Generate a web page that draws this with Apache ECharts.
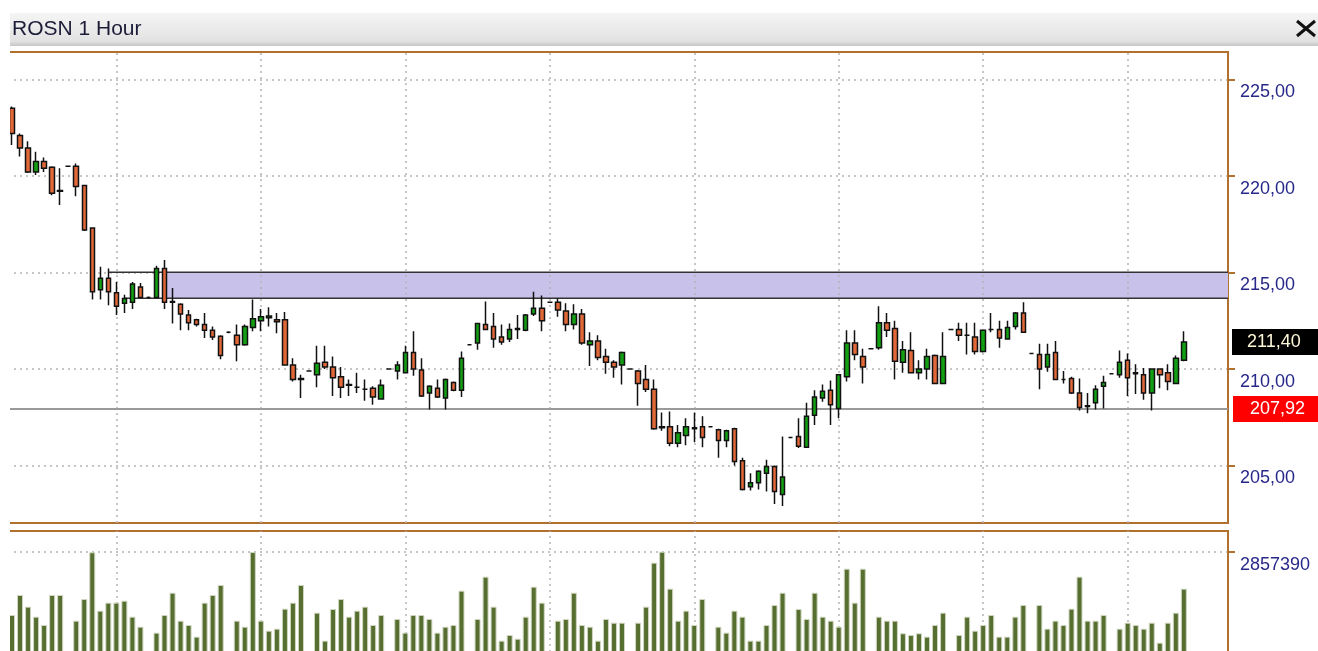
<!DOCTYPE html>
<html>
<head>
<meta charset="utf-8">
<title>ROSN 1 Hour</title>
<script src="https://cdn.jsdelivr.net/npm/echarts@6/dist/echarts.min.js"></script>
<style>
  html, body { margin: 0; padding: 0; background: #fff; }
  #report { width: 1318px; height: 651px; }
</style>
</head>
<body>
<div id="report"></div>
<script>
  // hourly bars, oldest first
  const opens = [223.5,222.1,221.45,220.2,220.75,220.45,219.25,220.5,220.5,219.5,
    217.3,214.1,214.7,213.95,213.4,213.45,214.25,213.7,213.7,215.2,
    213.5,213.35,212.8,212.55,212.3,212.0,211.7,211.9,211.75,211.25,
    212.15,212.5,212.65,212.55,212.55,210.2,209.5,209.9,209.7,210.35,
    210.1,209.6,209.2,209.05,208.95,209.0,208.45,210.0,209.9,209.8,
    210.85,209.95,208.75,209.0,208.5,209.3,208.9,211.25,211.35,212.3,
    212.2,211.65,211.55,212.05,212.0,212.85,213.15,213.45,213.45,213.0,
    212.3,212.85,211.25,211.45,210.65,210.35,210.2,210.0,209.9,209.45,
    208.95,207.0,207.0,206.15,206.55,206.95,207.0,207.0,206.85,206.3,
    206.9,205.25,203.9,204.1,204.6,204.95,203.5,206.45,206.5,205.95,
    207.6,208.5,208.9,207.95,209.6,211.35,210.65,211.05,211.1,212.4,
    212.1,210.35,210.95,209.8,210.0,210.7,209.25,212.05,212.05,211.75,
    211.65,210.9,212.05,212.05,211.55,212.2,212.9,210.8,210.75,210.1,
    210.85,209.45,209.5,208.75,208.05,208.25,209.1,209.75,209.7,210.45,
    209.8,209.7,208.75,210.0,209.8,209.25,210.45]
  const closes = [222.2,221.45,220.2,220.75,220.4,219.1,219.2,220.5,219.45,217.2,
    214.0,214.7,214.0,213.25,213.65,214.4,213.7,213.7,215.2,213.45,
    213.45,212.85,212.4,212.3,212.0,211.65,210.7,211.9,211.25,212.2,
    212.6,212.7,212.75,212.45,210.2,209.45,209.45,209.9,210.3,210.1,
    209.55,209.05,209.15,209.05,208.95,208.55,209.15,210.0,210.2,210.85,
    210.0,208.6,209.1,208.55,209.45,208.9,210.55,211.25,212.35,212.05,
    211.55,211.4,212.05,212.1,212.8,213.15,212.5,213.45,213.05,212.3,
    212.85,211.35,211.45,210.6,210.35,210.1,210.85,210.0,209.25,208.95,
    206.9,206.95,206.15,206.7,207.0,206.9,206.45,207.0,206.3,206.8,
    205.2,203.75,204.1,204.7,204.95,203.65,204.4,206.45,206.0,207.55,
    208.55,208.85,208.15,209.7,211.35,210.75,210.1,211.05,212.4,212.0,
    210.4,211.0,209.8,210.0,210.65,209.25,210.65,212.05,211.75,211.75,
    210.9,212.0,212.05,211.6,212.15,212.9,211.9,210.8,210.0,210.75,
    209.45,209.45,208.75,208.0,208.1,208.95,209.3,209.75,210.35,209.55,
    209.75,208.75,210.0,209.7,209.35,210.55,211.4]
  const lows = [221.6,221.0,220.15,220.05,220.2,219.0,218.5,220.5,218.95,217.15,
    213.6,213.6,213.3,212.8,212.9,213.1,213.7,213.65,213.7,213.1,
    212.35,212.0,212.0,212.2,211.6,211.5,210.5,211.85,210.4,211.2,
    211.95,211.95,212.2,211.85,210.2,209.35,208.5,209.9,209.05,210.0,
    208.6,208.5,208.6,208.75,208.35,208.15,208.4,210.0,209.45,209.8,
    209.65,208.55,207.9,208.5,207.9,208.85,208.55,211.25,211.0,212.0,
    211.1,211.25,211.4,211.55,211.95,212.75,211.95,213.45,212.7,211.95,
    212.05,211.25,210.15,210.45,209.75,209.55,209.2,210.0,208.1,208.8,
    206.85,206.8,206.0,205.95,206.05,206.2,205.95,207.0,205.4,205.95,
    205.0,203.7,203.7,203.75,203.65,203.0,202.9,206.45,205.9,205.9,
    207.1,208.3,207.1,207.45,209.35,210.45,209.25,211.05,211.0,211.65,
    209.45,209.8,209.8,209.45,209.45,209.25,209.25,212.05,211.45,210.75,
    210.75,210.85,211.9,211.1,211.55,212.05,211.9,210.8,208.95,209.85,
    209.45,209.25,208.7,207.85,207.7,207.9,207.95,209.75,209.55,208.6,
    208.7,208.4,207.85,209.0,208.9,209.25,210.4]
  const highs = [223.6,222.2,221.8,221.25,220.95,220.5,220.4,220.5,220.65,219.5,
    217.3,215.3,215.2,214.5,213.85,214.5,214.45,213.75,215.35,215.65,
    214.2,213.4,213.05,212.6,212.9,212.2,211.75,211.95,212.3,212.3,
    213.6,213.1,213.2,212.9,212.95,210.55,209.7,209.9,211.2,211.2,
    210.65,210.1,209.45,209.8,209.45,209.1,209.45,210.0,210.4,211.2,
    211.95,210.55,209.15,209.45,209.5,209.35,210.9,211.25,212.35,213.5,
    212.9,212.3,212.35,212.8,212.85,214.0,213.8,213.45,213.65,213.4,
    213.35,213.1,211.9,211.75,211.05,210.45,210.9,210.0,209.95,210.2,
    209.45,207.75,207.8,207.1,207.45,207.75,207.55,207.0,206.9,206.85,
    206.95,205.4,204.6,204.75,205.3,205.0,206.5,206.45,207.45,208.25,
    208.9,209.2,209.4,209.7,212.0,212.0,211.05,211.05,213.25,212.9,
    212.5,211.45,211.9,210.45,211.05,210.75,211.9,212.05,212.4,212.4,
    212.4,212.05,212.9,212.5,212.5,212.95,213.45,210.8,211.3,211.3,
    211.45,209.9,209.6,209.5,208.75,209.15,209.65,209.75,210.95,210.8,
    210.25,210.05,210.0,210.0,210.25,210.7,211.95]
  const volumes = [1638000,2023000,1798000,1605000,1445000,2023000,2023000,150000,1528000,1946000,
    2846000,1721000,1875000,1875000,1913000,1605000,1412000,120000,1297000,1638000,
    2067000,1528000,1445000,1220000,1875000,2023000,2216000,140000,1528000,1412000,
    2850120,1528000,1335000,1374000,1759000,1875000,2216000,160000,1682000,1143000,
    1753000,1946000,1605000,1721000,1798000,1445000,1638000,130000,1561000,1297000,
    1638000,1638000,1561000,1297000,1412000,1445000,2106000,150000,1561000,2376000,
    1798000,1143000,1252000,1181000,1605000,2183000,1875000,140000,1528000,1561000,
    2067000,1445000,1412000,1143000,1561000,1489000,1489000,120000,1489000,1798000,
    2646000,2857390,2145000,1528000,1721000,1445000,1946000,150000,1412000,1297000,
    1721000,1605000,1143000,1143000,1445000,1830000,2067000,140000,1753000,1561000,
    2067000,1605000,1528000,1412000,2530000,1875000,2530000,130000,1605000,1528000,
    1528000,1285000,1252000,1285000,1220000,1445000,1682000,150000,1252000,1605000,
    1335000,1445000,1638000,1220000,1220000,1605000,1830000,140000,1830000,1374000,
    1528000,1445000,1759000,2376000,1528000,1528000,1638000,130000,1374000,1489000,
    1445000,1374000,1489000,1104000,1489000,1682000,2145000]

  const priceTicks = [205, 210, 215, 220, 225]
  const volumeTicks = [2857390]
  const dayStarts = [13, 31, 49, 67, 85, 103, 121, 139]
  const zoneLow = 213.66
  const zoneHigh = 215.01
  const zoneStart = [11.6, 14.3, 19.2]   // top line, bottom line, fill
  const levelPrice = 207.92
  const lastPrice = 211.40
  const emptySlots = 5

  const hours = []
  for (let i = 0; i < opens.length + emptySlots; i++) hours.push(String(i + 1))
  const candles = opens.map((o, i) => [o, closes[i], lows[i], highs[i]])

  const brown = '#b0702e'
  const labelBlue = '#28288a'
  const dotted = {color: '#b4b4b4', type: [2, 4], width: 1.5}
  const comma = v => v.toFixed(2).replace('.', ',')

  const dayLines = dayStarts.map(i => ({xAxis: i, lineStyle: dotted}))

  const chart = echarts.init(document.getElementById('report'))
  chart.setOption({
    animation: false,
    backgroundColor: '#fff',
    textStyle: {fontFamily: 'Liberation Sans'},
    grid: [
      {left: 8, top: 52, width: 1220, height: 471, outerBoundsMode: 'none', show: true, borderColor: brown, borderWidth: 2, backgroundColor: '#fff'},
      {left: 8, top: 531, width: 1220, height: 169, outerBoundsMode: 'none', show: true, borderColor: brown, borderWidth: 2, backgroundColor: '#fff'}
    ],
    xAxis: [
      {type: 'category', gridIndex: 0, data: hours, show: false},
      {type: 'category', gridIndex: 1, data: hours, show: false}
    ],
    yAxis: [
      {
        type: 'value', gridIndex: 0, position: 'right', min: 202.02, max: 226.42,
        axisLine: {show: true, lineStyle: {color: brown, width: 2}},
        axisTick: {show: true, length: 7, customValues: priceTicks, lineStyle: {color: brown, width: 2}},
        axisLabel: {
          customValues: priceTicks, formatter: comma, color: labelBlue,
          fontSize: 18, fontFamily: 'Liberation Sans', margin: 12,
          verticalAlign: 'top', padding: [4, 0, 0, 0]
        },
        splitLine: {show: true, lineStyle: dotted}
      },
      {
        type: 'value', gridIndex: 1, position: 'right', min: 0, max: 3256200,
        axisLine: {show: true, lineStyle: {color: brown, width: 2}},
        axisTick: {show: true, length: 7, customValues: volumeTicks, lineStyle: {color: brown, width: 2}},
        axisLabel: {
          customValues: volumeTicks, formatter: v => String(v), color: labelBlue,
          fontSize: 18, fontFamily: 'Liberation Sans', margin: 12,
          verticalAlign: 'top', padding: [4, 0, 0, 0]
        },
        splitLine: {show: true, lineStyle: dotted}
      }
    ],
    series: [
      {
        type: 'candlestick',
        xAxisIndex: 0,
        yAxisIndex: 0,
        data: candles,
        barWidth: 5,
        itemStyle: {
          color: '#12a012', color0: '#e2683a',
          borderColor: '#111', borderColor0: '#111', borderColorDoji: '#111',
          borderWidth: 1.5
        },
        markArea: {
          silent: true,
          z: 0.5,
          data: [
            [{xAxis: zoneStart[2], yAxis: zoneHigh, itemStyle: {color: '#c8c1e9'}}, {yAxis: zoneLow}],
            [{xAxis: zoneStart[0], yAxis: zoneHigh, itemStyle: {color: 'transparent', borderColor: '#333', borderWidth: 1.5}}, {yAxis: zoneHigh}],
            [{xAxis: zoneStart[1], yAxis: zoneLow, itemStyle: {color: 'transparent', borderColor: '#333', borderWidth: 1.5}}, {yAxis: zoneLow}]
          ]
        },
        markLine: {
          silent: true,
          z: 1,
          symbol: 'none',
          label: {show: false},
          data: dayLines.concat([
            {
              yAxis: levelPrice,
              lineStyle: {color: '#9a9a9a', width: 2, type: 'solid'},
              label: {
                show: true, position: 'end', distance: 5, formatter: comma(levelPrice),
                backgroundColor: '#ff0000', color: '#fff', fontSize: 18,
                fontFamily: 'Liberation Sans', padding: [4, 20, 4, 17]
              }
            },
            {
              yAxis: lastPrice,
              lineStyle: {color: 'transparent', width: 0},
              label: {
                show: true, position: 'end', distance: 4, formatter: comma(lastPrice),
                backgroundColor: '#000', color: '#fdf6d8', fontSize: 18,
                fontFamily: 'Liberation Sans', padding: [4, 20, 4, 15]
              }
            }
          ])
        }
      },
      {
        type: 'bar',
        xAxisIndex: 1,
        yAxisIndex: 1,
        data: volumes,
        barWidth: 6,
        itemStyle: {color: '#566e2f', borderColor: '#cfd6c0', borderWidth: 1},
        markLine: {silent: true, z: 1, symbol: 'none', label: {show: false}, data: dayLines}
      }
    ],
    graphic: [
      {type: 'rect', z: 100, shape: {x: 0, y: 0, width: 10, height: 651}, style: {fill: '#fff'}},
      {
        type: 'rect', z: 100, shape: {x: 10, y: 13, width: 1308, height: 33},
        style: {fill: new echarts.graphic.LinearGradient(0, 0, 0, 1, [
          {offset: 0, color: '#f5f5f5'}, {offset: 0.85, color: '#e2e2e2'}, {offset: 1, color: '#c6c6c6'}
        ])}
      },
      {
        type: 'text', z: 101, x: 12, y: 29,
        style: {text: 'ROSN 1 Hour', fill: '#1c1c38', font: '21px "Liberation Sans"', verticalAlign: 'middle'}
      },
      {type: 'line', z: 101, shape: {x1: 1297, y1: 21, x2: 1315, y2: 36}, style: {stroke: '#111', lineWidth: 3}},
      {type: 'line', z: 101, shape: {x1: 1315, y1: 21, x2: 1297, y2: 36}, style: {stroke: '#111', lineWidth: 3}}
    ]
  })
</script>
</body>
</html>
